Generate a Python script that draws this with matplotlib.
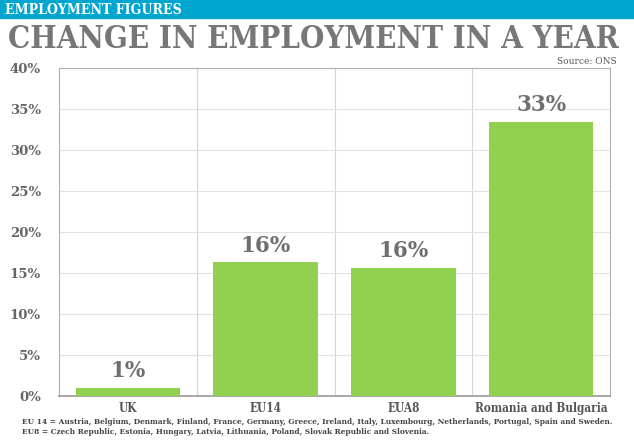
import matplotlib
matplotlib.use("Agg")
import matplotlib.pyplot as plt

categories = ["UK", "EU14", "EUA8", "Romania and Bulgaria"]
values = [1.0, 16.3, 15.6, 33.4]
value_labels = ["1%", "16%", "16%", "33%"]
yticks = [0, 5, 10, 15, 20, 25, 30, 35, 40]
footnotes = [
    "EU 14 = Austria, Belgium, Denmark, Finland, France, Germany, Greece, Ireland, Italy, Luxembourg, Netherlands, Portugal, Spain and Sweden.",
    "EU8 = Czech Republic, Estonia, Hungary, Latvia, Lithuania, Poland, Slovak Republic and Slovenia.",
]

W, H = 634, 441
fig = plt.figure(figsize=(W / 100, H / 100), dpi=100)
fig.patch.set_facecolor("white")
plt.rcParams["font.family"] = "DejaVu Serif"


def px(x, y):
    return x / W, 1 - y / H


def fit(t, width_px):
    # shrink font until the text is width_px wide
    r = fig.canvas.get_renderer()
    w = t.get_window_extent(r).width
    t.set_fontsize(t.get_fontsize() * width_px / w)


# blue header band
fig.patches.append(plt.Rectangle((0, 1 - 18 / H), 1, 18 / H, transform=fig.transFigure,
                                 color="#00a6d0", zorder=0))
t = fig.text(*px(5, 9.5), "EMPLOYMENT FIGURES", color="white", fontweight="bold",
             fontstretch="condensed", fontsize=10, va="center", ha="left")
fit(t, 176)

t = fig.text(*px(8, 39.5), "CHANGE IN EMPLOYMENT IN A YEAR", color="#777777",
             fontweight="heavy", fontstretch="condensed", fontsize=22,
             va="center", ha="left")
fit(t, 612)

fig.text(*px(617, 62), "Source: ONS", color="#555555", fontsize=6.5,
         ha="right", va="center")

ax = fig.add_axes([59 / W, 45 / H, 551 / W, 328 / H])
x = range(len(categories))
ax.bar(x, values, width=0.76, color="#92d050", zorder=3)
for i, (v, lab) in enumerate(zip(values, value_labels)):
    ax.text(i, v + 0.7, lab, ha="center", va="bottom", fontsize=15.5,
            fontweight="bold", color="#6f6f6f", zorder=4)

ax.set_xlim(-0.5, len(categories) - 0.5)
ax.set_ylim(0, 40)
ax.set_yticks(yticks)
ax.set_yticklabels([f"{v}%" for v in yticks])
ax.set_xticks(list(x))
ax.set_xticklabels(categories)
ax.set_xticks([0.5, 1.5, 2.5], minor=True)
ax.grid(axis="y", color="#e2e2e2", linewidth=0.8, zorder=0)
ax.grid(axis="x", which="minor", color="#d5d5d5", linewidth=0.8, zorder=0)
ax.tick_params(axis="both", which="both", length=0)
ax.tick_params(axis="y", pad=13, labelsize=9.5, labelcolor="#666666")
ax.tick_params(axis="x", pad=4, labelsize=8.5, labelcolor="#555555")
for lab in ax.get_yticklabels():
    lab.set_fontweight("bold")
for lab in ax.get_xticklabels():
    lab.set_fontweight("bold")
    lab.set_fontstretch("condensed")
for s in ax.spines.values():
    s.set_color("#b0b0b0")
    s.set_linewidth(0.8)
ax.spines["bottom"].set_color("#999999")
ax.spines["bottom"].set_linewidth(1.2)

t = fig.text(*px(22, 422), footnotes[0], fontsize=6, fontweight="bold",
             fontstretch="condensed", color="#444444", va="center", ha="left")
fit(t, 597)
t = fig.text(*px(22, 432), footnotes[1], fontsize=t.get_fontsize(), fontweight="bold",
             fontstretch="condensed", color="#444444", va="center", ha="left")

fig.savefig("out.png", dpi=100)
